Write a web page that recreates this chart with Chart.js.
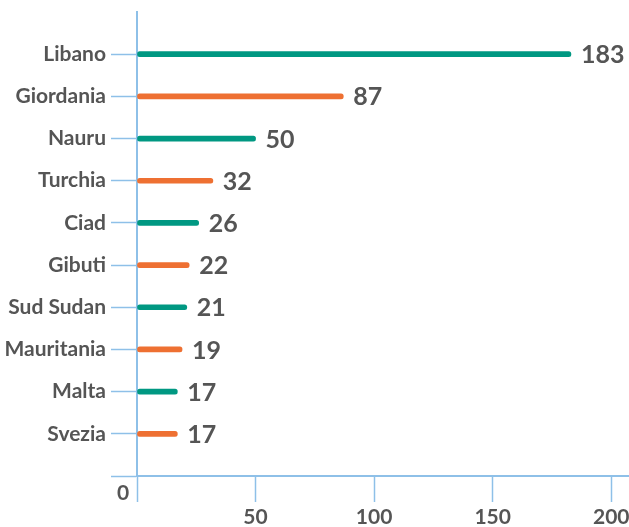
<!DOCTYPE html>
<html>
<head>
<meta charset="utf-8">
<script src="https://cdn.jsdelivr.net/npm/chart.js@4"></script>
<style>
html,body{margin:0;padding:0;background:#fff;}
#wrap{width:629px;height:527px;position:relative;}
</style>
</head>
<body>
<div id="wrap"><canvas id="c"></canvas></div>
<script>
const categories = ['Libano','Giordania','Nauru','Turchia','Ciad','Gibuti','Sud Sudan','Mauritania','Malta','Svezia'];
const values = [183, 87, 50, 32, 26, 22, 21, 19, 17, 17];
const xTicks = [0, 50, 100, 150, 200];

const TEAL = '#009882';
const ORANGE = '#EE7032';
const TEXT = '#555555';
const AXIS = '#8EC0E8';
const FONT = 'Lato, "Open Sans", sans-serif';

const labels = ['', ...categories, ''];
const data = [null, ...values, null];
const colors = labels.map((_, i) => (i % 2 === 1 ? TEAL : ORANGE));

const valueLabels = {
  id: 'valueLabels',
  afterDatasetsDraw(chart) {
    const ctx = chart.ctx;
    const meta = chart.getDatasetMeta(0);
    ctx.save();
    ctx.font = 'bold 25px ' + FONT;
    ctx.fillStyle = TEXT;
    ctx.textAlign = 'left';
    ctx.textBaseline = 'middle';
    meta.data.forEach((bar, i) => {
      const v = data[i];
      if (v == null) return;
      ctx.fillText(String(v), bar.x + 10, bar.y + 1);
    });
    // the "0" label of the value axis, shown at the corner
    const xs = chart.scales.x;
    ctx.font = 'bold 21px ' + FONT;
    ctx.textAlign = 'center';
    ctx.fillText(String(xTicks[0]), xs.getPixelForValue(xTicks[0]) - 14, chart.chartArea.bottom + 17);
    ctx.restore();
  }
};

new Chart(document.getElementById('c'), {
  type: 'bar',
  data: {
    labels: labels,
    datasets: [{
      data: data,
      backgroundColor: colors,
      barThickness: 5,
      borderRadius: 3,
      borderSkipped: false
    }]
  },
  options: {
    indexAxis: 'y',
    responsive: true,
    maintainAspectRatio: false,
    animation: false,
    layout: { padding: { top: 12, right: 0, left: 0, bottom: 0 } },
    plugins: { legend: { display: false }, tooltip: { enabled: false } },
    scales: {
      x: {
        type: 'linear',
        min: 0,
        max: 207.5,
        afterBuildTicks(scale) { scale.ticks = xTicks.map(v => ({ value: v })); },
        afterFit(scale) { scale.height = 51; scale.paddingLeft = 0; scale.paddingRight = 0; },
        border: { color: AXIS, width: 2 },
        grid: { drawOnChartArea: false, tickLength: 26, tickColor: AXIS, tickWidth: 1.5 },
        ticks: {
          padding: 3,
          color: TEXT,
          font: { family: FONT, size: 21, weight: 'bold' },
          callback: (v) => (v === 0 ? '' : String(v))
        }
      },
      y: {
        type: 'category',
        offset: false,
        afterFit(scale) { scale.width = 137; scale.paddingTop = 0; scale.paddingBottom = 0; },
        border: { color: AXIS, width: 2 },
        grid: {
          offset: false,
          drawOnChartArea: false,
          tickLength: 26,
          tickWidth: 1.5,
          tickColor: (ctx) => (ctx.index === 0 ? 'rgba(0,0,0,0)' : AXIS)
        },
        ticks: {
          padding: 5,
          color: TEXT,
          font: { family: FONT, size: 21, weight: 'bold' },
          autoSkip: false
        }
      }
    }
  },
  plugins: [valueLabels]
});
</script>
</body>
</html>
